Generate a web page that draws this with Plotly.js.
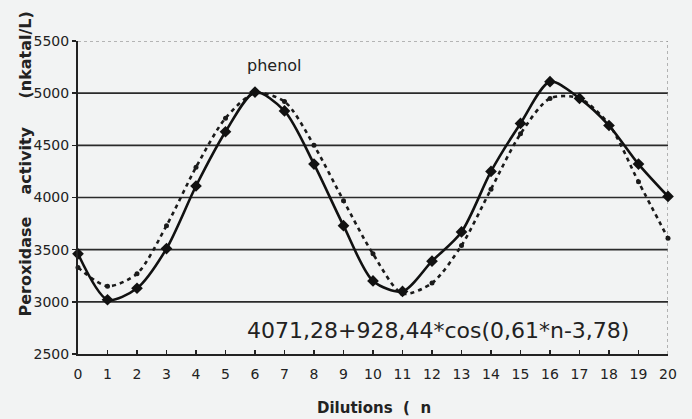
<!DOCTYPE html>
<html>
<head>
<meta charset="utf-8">
<script src="https://cdn.plot.ly/plotly-3.0.1.min.js"></script>
<style>
  html, body { margin: 0; padding: 0; background: #f2f3f3; }
  #chart { width: 692px; height: 419px; }
</style>
</head>
<body>
<div id="chart"></div>
<script>
// Dilution steps n
const dilutions = [0, 1, 2, 3, 4, 5, 6, 7, 8, 9, 10, 11, 12, 13, 14, 15, 16, 17, 18, 19, 20];

// Measured peroxidase activity (nkatal/L)
const measured = [3460, 3020, 3130, 3510, 4110, 4630, 5010, 4830, 4320, 3730, 3200, 3100,
                  3390, 3670, 4250, 4710, 5110, 4950, 4690, 4320, 4010];

// Fitted cosine model values at each dilution
const fitted = [3330, 3150, 3270, 3730, 4290, 4760, 5000, 4920, 4500, 3970, 3460, 3080,
                3180, 3540, 4080, 4610, 4950, 4950, 4700, 4150, 3610];

const yTicks = [2500, 3000, 3500, 4000, 4500, 5000, 5500];
const fitLabel = '4071,28+928,44*cos(0,61*n-3,78)';
const seriesLabel = 'phenol';
const xTitle = 'Dilutions  (  n';
// Vertical axis title, set word by word with wide gaps between the words
const yTitleWords = ['Peroxidase', 'activity', '(nkatal/L)'];
const yTitleCenters = [0.281, 0.620, 0.955];

const font = 'DejaVu Sans, Verdana, sans-serif';
const ink = '#222';

const traces = [
  {
    x: dilutions, y: fitted, type: 'scatter', mode: 'lines+markers', cliponaxis: false,
    line: { color: '#1a1a1a', width: 2.6, dash: '4px,4px', shape: 'spline', smoothing: 0.8 },
    marker: { symbol: 'circle', size: 5, color: '#1a1a1a' },
    hoverinfo: 'skip'
  },
  {
    x: dilutions, y: measured, type: 'scatter', mode: 'lines+markers', cliponaxis: false,
    line: { color: '#111', width: 2.6, shape: 'spline', smoothing: 0.8 },
    marker: { symbol: 'diamond', size: 9, color: '#111' },
    hoverinfo: 'skip'
  }
];

// Horizontal gridlines as shapes so the top edge can stay dotted and grey
const shapes = yTicks.filter(v => v > 2500 && v < 5500).map(v => ({
  type: 'line', xref: 'paper', x0: 0, x1: 1, yref: 'y', y0: v, y1: v,
  line: { color: '#2a2a2a', width: 1.6 }, layer: 'below'
}));
shapes.push({
  type: 'line', xref: 'paper', x0: 0, x1: 1, yref: 'y', y0: 5500, y1: 5500,
  line: { color: '#777', width: 1.2, dash: 'dot' }, layer: 'below'
});
shapes.push({
  type: 'line', xref: 'x', x0: 20, x1: 20, yref: 'paper', y0: 0, y1: 1,
  line: { color: '#888', width: 1.2, dash: 'dot' }, layer: 'below'
});

const annotations = [
  {
    text: seriesLabel, x: 6.65, y: 5270, xref: 'x', yref: 'y', showarrow: false,
    font: { family: font, size: 16, color: ink }
  },
  {
    text: fitLabel, x: 12.2, y: 2730, xref: 'x', yref: 'y', showarrow: false,
    font: { family: font, size: 22, color: ink }
  },
  {
    text: '<b>' + xTitle + '</b>', xref: 'paper', yref: 'paper', x: 0.502, y: -0.1725,
    xanchor: 'center', yanchor: 'middle', showarrow: false,
    font: { family: font, size: 15, color: ink }
  }
];
yTitleWords.forEach((w, i) => annotations.push({
  text: '<b>' + w + '</b>', xref: 'paper', yref: 'paper', x: -0.089, y: yTitleCenters[i],
  xanchor: 'center', yanchor: 'middle', textangle: -90, showarrow: false,
  font: { family: font, size: 16, color: ink }
}));

const layout = {
  width: 692, height: 419,
  margin: { l: 78, r: 24, t: 41, b: 65 },
  paper_bgcolor: '#f2f3f3',
  plot_bgcolor: '#f2f3f3',
  showlegend: false,
  font: { family: font, color: ink },
  xaxis: {
    range: [0, 20], tickvals: dilutions, ticktext: dilutions.map(String),
    showgrid: false, zeroline: false,
    showline: true, linecolor: ink, linewidth: 2,
    ticks: 'inside', ticklen: 4, tickcolor: ink, tickwidth: 1.5,
    ticklabelstandoff: 6,
    tickfont: { family: font, size: 14, color: ink }
  },
  yaxis: {
    range: [2500, 5500], tickvals: yTicks, ticktext: yTicks.map(String),
    showgrid: false, zeroline: false,
    showline: true, linecolor: ink, linewidth: 2,
    ticks: 'outside', ticklen: 4, tickcolor: ink, tickwidth: 1.5,
    tickfont: { family: font, size: 14, color: ink }
  },
  shapes: shapes,
  annotations: annotations
};

Plotly.newPlot('chart', traces, layout, { displayModeBar: false, staticPlot: true });
</script>
</body>
</html>
